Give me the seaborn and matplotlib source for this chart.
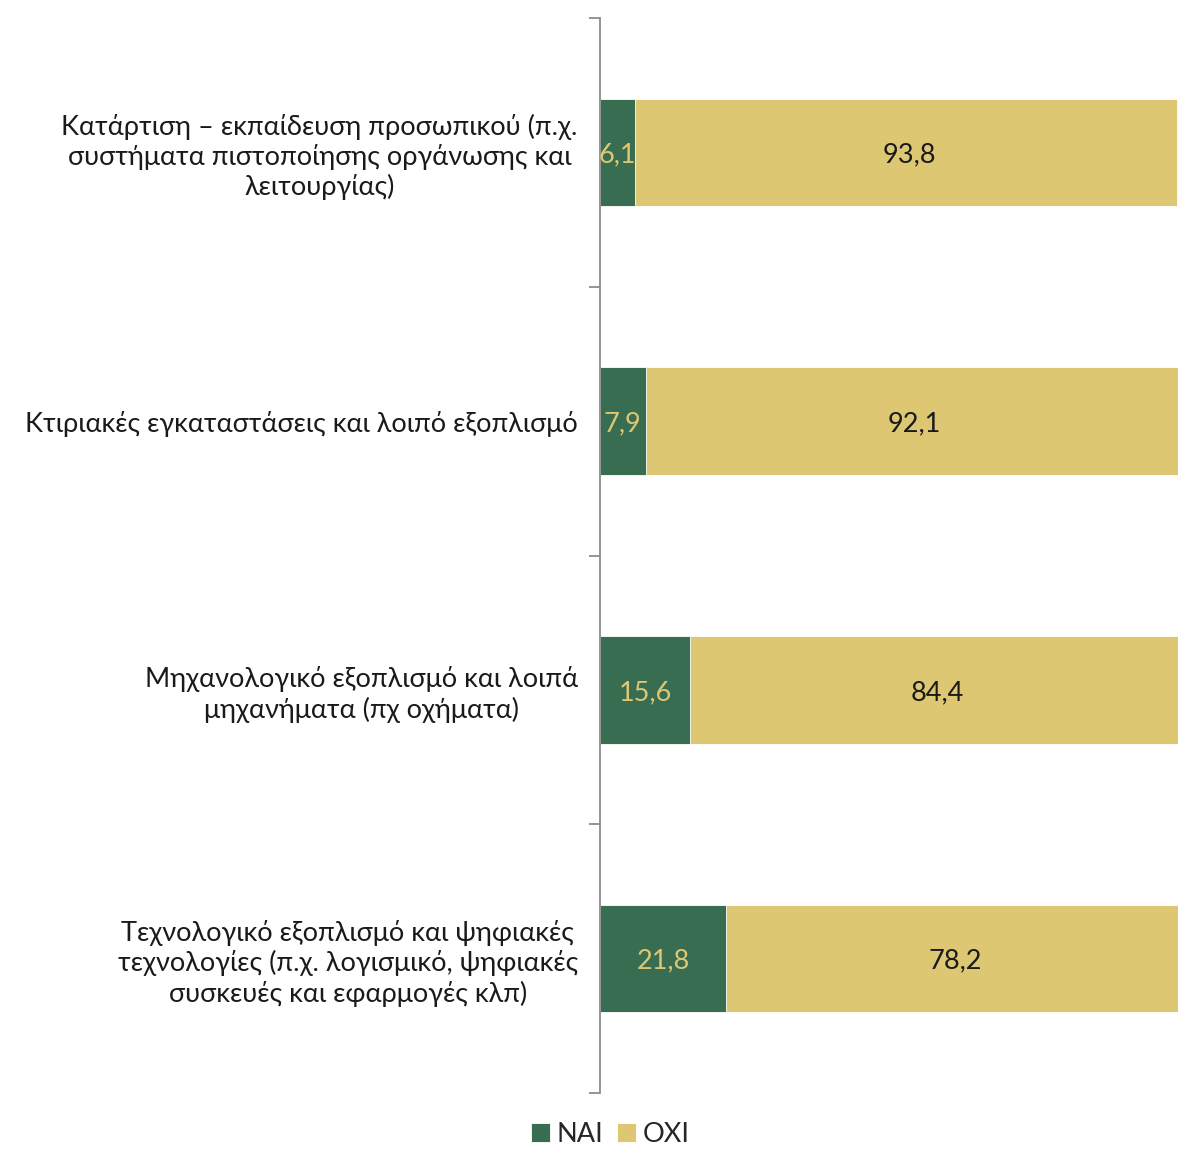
import numpy as np
import pandas as pd
import seaborn as sns
import matplotlib.pyplot as plt

categories = [
    "Κατάρτιση – εκπαίδευση προσωπικού (π.χ.\nσυστήματα πιστοποίησης οργάνωσης και\nλειτουργίας)",
    "Κτιριακές εγκαταστάσεις και λοιπό εξοπλισμό",
    "Μηχανολογικό εξοπλισμό και λοιπά\nμηχανήματα (πχ οχήματα)",
    "Τεχνολογικό εξοπλισμό και ψηφιακές\nτεχνολογίες (π.χ. λογισμικό, ψηφιακές\nσυσκευές και εφαρμογές κλπ)",
]
nai = [6.1, 7.9, 15.6, 21.8]
oxi = [93.8, 92.1, 84.4, 78.2]

green = "#386D51"
gold = "#DDC773"

sns.set_style("white")
plt.rcParams["font.family"] = ["Lato", "DejaVu Sans"]

df = pd.DataFrame({"cat": categories, "ΝΑΙ": nai, "ΟΧΙ": oxi})
df["total"] = df["ΝΑΙ"] + df["ΟΧΙ"]

fig = plt.figure(figsize=(11.78, 11.53), dpi=100)
ax = fig.add_axes([600 / 1178, 1 - 1093 / 1153, 1 - 600 / 1178, (1093 - 18) / 1153])

# stacked: full bar in gold, NAI part drawn over it in green
sns.barplot(data=df, x="total", y="cat", color=gold, width=0.4, ax=ax, saturation=1,
            orient="h", edgecolor="white", linewidth=0.6, label="ΟΧΙ", legend=False)
sns.barplot(data=df, x="ΝΑΙ", y="cat", color=green, width=0.4, ax=ax, saturation=1,
            orient="h", edgecolor="white", linewidth=0.6, label="ΝΑΙ", legend=False)

fs = 19.5
for i in range(len(categories)):
    ax.text(nai[i] / 2, i + 0.01, f"{nai[i]:.1f}".replace(".", ","), ha="center",
            va="center", color=gold, fontsize=fs)
    ax.text(nai[i] + oxi[i] / 2 + 0.5, i + 0.01, f"{oxi[i]:.1f}".replace(".", ","),
            ha="center", va="center", color="#1a1a1a", fontsize=fs)

ax.set_xlim(0, 100)
ax.set_ylim(3.5, -0.5)
ax.set_xlabel("")
ax.set_ylabel("")
ax.set_xticks([])
for s in ["top", "right", "bottom"]:
    ax.spines[s].set_visible(False)
ax.spines["left"].set_color("#8c8c8c")
ax.spines["left"].set_linewidth(1.3)

ax.set_yticks(range(len(categories)))
ax.set_yticklabels(categories, fontsize=fs, color="#1a1a1a", linespacing=1.2)
for t in ax.get_yticklabels():
    t.set_multialignment("center")
ax.tick_params(axis="y", which="major", length=0, pad=16)
ax.set_yticks(np.arange(-0.5, 4, 1), minor=True)
ax.tick_params(axis="y", which="minor", length=8, width=1.3, color="#8c8c8c", left=True)

if ax.get_legend() is not None:
    ax.get_legend().remove()
handles, labels = ax.get_legend_handles_labels()
order = [labels.index("ΝΑΙ"), labels.index("ΟΧΙ")]
fig.legend([handles[k] for k in order], [labels[k] for k in order],
           loc="lower center", bbox_to_anchor=(0.518, -0.016), ncol=2, frameon=False,
           fontsize=fs, handlelength=0.7, handleheight=0.7, handletextpad=0.25,
           columnspacing=0.5)

fig.savefig("out.png", dpi=100)
